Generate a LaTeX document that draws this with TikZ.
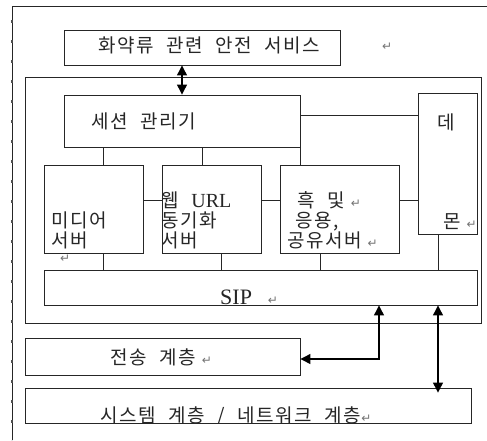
\documentclass[tikz,border=0pt]{standalone}
\usepackage{fontspec}
\setmainfont{Liberation Serif}
\newfontfamily\kr[WordSpace=2.2, LetterSpace=8]{Noto Sans CJK KR}
\newfontfamily\symfont{DejaVu Sans}
\usetikzlibrary{positioning, arrows.meta}
\tikzstyle{box} = [rectangle, draw=black!85, line width=0.9pt, 
inner sep=0pt]
\tikzstyle{txt} = [anchor=west, inner sep=0pt, align=left, 
font=\kr\fontsize{19}{20}\selectfont, text=black!85]
\tikzstyle{line} = [draw=black!85, line width=0.9pt]
\tikzstyle{arrow} = [line width=1.2pt, 
{Triangle[length=10pt,width=10pt]}-{Triangle[length=10pt,width=10pt]}]
\newcommand{\ret}{{\symfont\fontsize{12}{12}\selectfont\textcolor{black!55}{↵}}}

\begin{document}
\begin{tikzpicture}[x=1pt, y=-1pt, node distance=118pt]
\useasboundingbox (0,0) rectangle (487,440);

%----------page frame----------------
\draw [line] (12.5,440) -- (12.5,6) -- (487,6);
\draw [draw=black!70, line width=1.6pt, dash pattern=on 3pt off 17pt] 
(11.8,20) -- (11.8,440);

\node (title) [box, minimum width=276pt, minimum height=35pt] 
at (202,47.5) {};

\node (outer) [box, minimum width=456pt, minimum height=246pt] 
at (253,200) {};

\node (session) [box, minimum width=236pt, minimum height=52pt] 
at (182,121) {};

\node (demon) [box, minimum width=59pt, minimum height=141pt] 
at (447.5,163.5) {};

%-------servers-------------------
\node (media) [box, minimum width=99pt, minimum height=88pt] 
at (93.5,209) {};

\node (web) [box, right of=media, minimum width=99pt, 
minimum height=88pt] {};

\node (share) [box, right of=web, xshift=10pt, minimum width=119pt, 
minimum height=88pt] {};

\node (sip) [box, minimum width=433pt, minimum height=35pt] 
at (260.5,287.5) {};

%-------layers-------------------
\node (transport) [box, minimum width=275pt, minimum height=37pt] 
at (162.5,356.5) {};

\node (system) [box, minimum width=446pt, minimum height=35pt] 
at (248,405.5) {};

%----------texts----------------
\node (titletxt) [txt] at (98,45) {화약류 관련 안전 서비스};
\node (titleret) [txt] at (382,47) {\ret};
\node (sessiontxt) [txt] at (91,121) {세션 관리기};
\node (demontop) [txt] at (437,122) {데};
\node (demonbot) [txt] at (443,222) {몬\hspace{6pt}\ret};
\node (mediatxt) [txt] at (51,230) {미디어\\서버};
\node (mediaret) [txt] at (60,259) {\ret};
\node (webtxt) [txt] at (161,220) 
{웹 {\rmfamily\fontsize{20}{20}\selectfont URL}\\동기화\\서버};
\node (sharetxt) [txt] at (287,220) 
{\hspace{10pt}흑 및\hspace{6pt}\ret\\\hspace{8pt}응용,\\공유서버\hspace{6pt}\ret};
\node (siptxt) [txt, font=\rmfamily\fontsize{22}{22}\selectfont] 
at (220,297.5) {SIP\hspace{16pt}\ret};
\node (transtxt) [txt] at (110,357) {전송 계층\hspace{6pt}\ret};
\begin{scope}
\clip (system.north west) rectangle (system.south east);
\node (systxt) [txt] at (100,416) {시스템 계층 / 네트워크 계층\ret};
\end{scope}

%----------session to servers----------------
\draw [line] ([xshift=9.5pt]media.north) -- 
([xshift=9.5pt]media.north |- session.south);
\draw [line] ([xshift=-9.5pt]web.north) -- 
([xshift=-9.5pt]web.north |- session.south);
\draw [line] (session.south east) -- (session.south east |- share.north);
\draw [line] ([yshift=6pt]session.east) -- 
([yshift=6pt]session.east -| demon.west);

%----------between servers----------------
\draw [line] ([yshift=9pt]media.east) -- ([yshift=9pt]web.west);
\draw [line] ([yshift=9pt]web.east) -- ([yshift=9pt]share.west);
\draw [line] ([yshift=9pt]share.east) -- 
([yshift=9pt]share.east -| demon.west);

%----------servers to SIP----------------
\draw [line] ([xshift=9.5pt]media.south) -- 
([xshift=9.5pt]media.south |- sip.north);
\draw [line] ([xshift=9.5pt]web.south) -- 
([xshift=9.5pt]web.south |- sip.north);
\draw [line] ([xshift=-19.5pt]share.south) -- 
([xshift=-19.5pt]share.south |- sip.north);
\draw [line] ([xshift=-9.5pt]demon.south) -- 
([xshift=-9.5pt]demon.south |- sip.north);

%----------arrows----------------
\draw [arrow] (session.north) -- (session.north |- title.south);
\draw [arrow] ([xshift=118.5pt]sip.south) |- 
([yshift=-2.5pt]transport.east);
\draw [arrow, shorten >=-5pt] ([xshift=177.5pt]sip.south) -- 
([xshift=177.5pt]sip.south |- system.north);

\end{tikzpicture}
\end{document}
